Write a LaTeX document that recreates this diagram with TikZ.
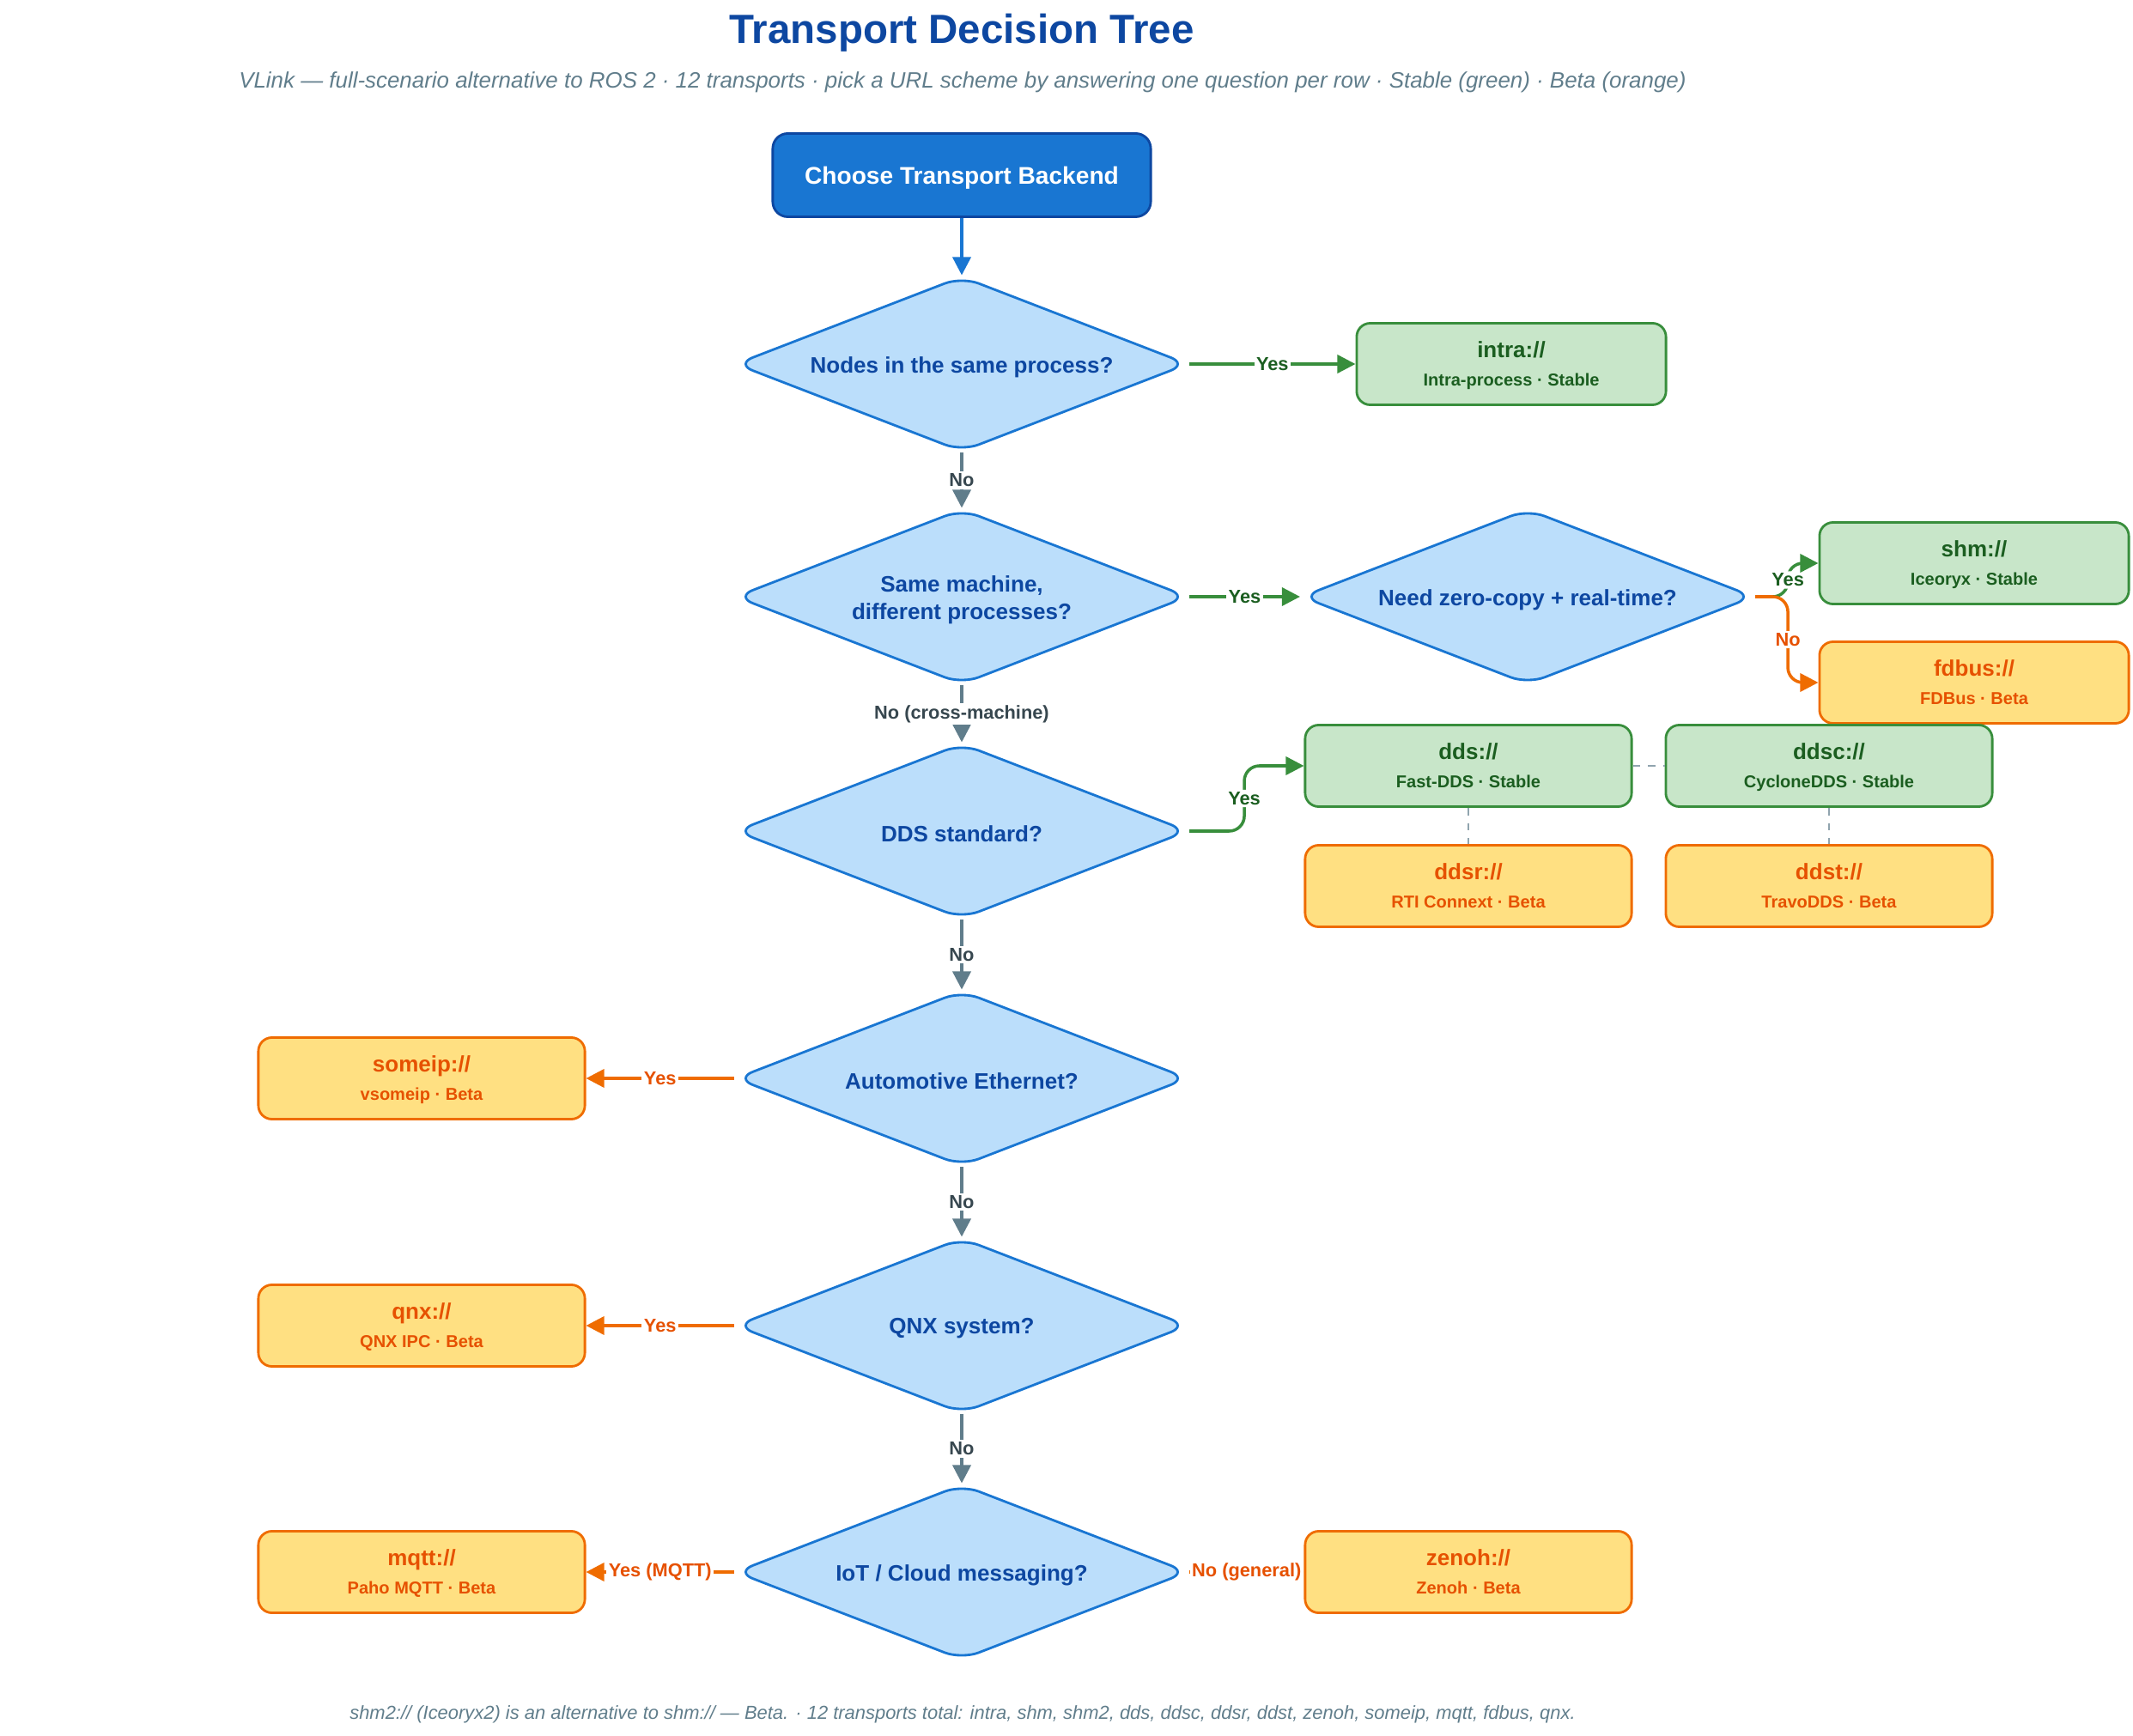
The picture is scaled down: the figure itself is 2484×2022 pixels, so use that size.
\documentclass[tikz,border=0pt]{standalone}
\usepackage{fontspec}
\setmainfont{Liberation Sans}
\usetikzlibrary{shapes.geometric,arrows.meta}

\definecolor{titleblue}{HTML}{0D47A1}
\definecolor{startblue}{HTML}{1976D2}
\definecolor{qfill}{HTML}{BBDEFB}
\definecolor{greenfill}{HTML}{C8E6C9}
\definecolor{greenline}{HTML}{388E3C}
\definecolor{greentext}{HTML}{1B5E20}
\definecolor{orangefill}{HTML}{FFE082}
\definecolor{orangeline}{HTML}{EF6C00}
\definecolor{orangetext}{HTML}{E65100}
\definecolor{greyline}{HTML}{607D8B}
\definecolor{greytext}{HTML}{37474F}
\definecolor{dashgrey}{HTML}{90A4AE}

\newcommand{\transport}[2]{{\fontsize{7.4}{9.4}\selectfont #1}\\{\fontsize{5.7}{9.4}\selectfont #2}}

\begin{document}
\begin{tikzpicture}
	[x=0.01cm, y=-0.01cm,
	start/.style={draw=titleblue, fill=startblue, line width=0.8pt, rounded corners=5pt,
		minimum width=4.4cm, minimum height=0.97cm, text=white, text depth=0pt,
		font=\fontsize{8}{9.6}\selectfont\bfseries},
	decision/.style={diamond, draw=startblue, fill=qfill, line width=0.8pt, rounded corners=6pt,
		minimum width=5.27cm, minimum height=2.04cm, inner sep=0pt},
	qtext/.style={text=titleblue, align=center, yshift=-1pt, font=\fontsize{7.4}{9}\selectfont\bfseries},
	stable/.style={draw=greenline, fill=greenfill, text=greentext, line width=0.8pt,
		rounded corners=4.5pt, minimum width=3.6cm, minimum height=0.95cm, align=center,
		text depth=0pt, font=\fontsize{7.4}{9.4}\selectfont\bfseries},
	beta/.style={stable, draw=orangeline, fill=orangefill, text=orangetext},
	wide/.style={minimum width=3.8cm},
	note/.style={text=greyline, font=\fontsize{7.37}{8.5}\selectfont\itshape},
	lbl/.style={fill=white, inner sep=0.7pt, font=\fontsize{6.2}{7}\selectfont\bfseries},
	startarrow/.style={-{Triangle[length=6pt,width=6pt]}, startblue, line width=1pt},
	yesarrow/.style={-{Triangle[length=6pt,width=6pt]}, greenline, line width=1pt},
	betaarrow/.style={-{Triangle[length=6pt,width=6pt]}, orangeline, line width=1pt},
	noarrow/.style={-{Triangle[length=6pt,width=6pt]}, greyline, line width=1pt},
	alt/.style={dashgrey, line width=0.7pt, dash pattern=on 2.5pt off 2.5pt}]

	\useasboundingbox (0,0) rectangle (2484,2022);

	% Title
	\node[text=titleblue, font=\fontsize{13.5}{16}\selectfont\bfseries] (title) at (1120,38) {Transport Decision Tree};
	\node[note] (subtitle) at (1121,96) {VLink — full-scenario alternative to ROS 2 · 12 transports · pick a URL scheme by answering one question per row · Stable (green) · Beta (orange)};

	% Start
	\node[start] (start) at (1120,204) {Choose Transport Backend};

	% Questions
	\node[decision, label={[qtext]center:{Nodes in the same process?}}] (q1) at (1120,424) {};
	\node[decision, label={[qtext]center:{Same machine,\\different processes?}}] (q2) at (1120,695) {};
	\node[decision, label={[qtext]center:{Need zero-copy + real-time?}}] (zc) at (1779,695) {};
	\node[decision, label={[qtext]center:{DDS standard?}}] (q3) at (1120,968) {};
	\node[decision, label={[qtext]center:{Automotive Ethernet?}}] (q4) at (1120,1256) {};
	\node[decision, label={[qtext]center:{QNX system?}}] (q5) at (1120,1544) {};
	\node[decision, label={[qtext]center:{IoT / Cloud messaging?}}] (q6) at (1120,1831) {};

	% Transports
	\node[stable] (intra) at (1760,424) {\transport{intra://}{Intra-process · Stable}};
	\node[stable] (shm) at (2299,656) {\transport{shm://}{Iceoryx · Stable}};
	\node[beta] (fdbus) at (2299,795) {\transport{fdbus://}{FDBus · Beta}};
	\node[stable, wide] (dds) at (1710,892) {\transport{dds://}{Fast-DDS · Stable}};
	\node[stable, wide] (ddsc) at (2130,892) {\transport{ddsc://}{CycloneDDS · Stable}};
	\node[beta, wide] (ddsr) at (1710,1032) {\transport{ddsr://}{RTI Connext · Beta}};
	\node[beta, wide] (ddst) at (2130,1032) {\transport{ddst://}{TravoDDS · Beta}};
	\node[beta, wide] (someip) at (491,1256) {\transport{someip://}{vsomeip · Beta}};
	\node[beta, wide] (qnx) at (491,1544) {\transport{qnx://}{QNX IPC · Beta}};
	\node[beta, wide] (mqtt) at (491,1831) {\transport{mqtt://}{Paho MQTT · Beta}};
	\node[beta, wide] (zenoh) at (1710,1831) {\transport{zenoh://}{Zenoh · Beta}};

	% Main line
	\draw[startarrow] (start) -- (q1);
	\foreach \a/\b/\t in {q1/q2/No, q2/q3/No (cross-machine), q3/q4/No, q4/q5/No, q5/q6/No}
		\draw[noarrow] (\a.south) -- (\b.north) node[midway, lbl, text=greytext] {\t};

	% Yes branches
	\draw[yesarrow] (q1) -- (intra) node[midway, lbl, text=greentext] {Yes};
	\draw[yesarrow] (q2) -- (zc) node[midway, lbl, text=greentext] {Yes};
	\draw[yesarrow, rounded corners=5pt] (zc.east) -- ++(38,0) |- node[pos=0.25, lbl, text=greentext] {Yes} (shm.west);
	\draw[betaarrow, rounded corners=5pt] (zc.east) -- ++(38,0) |- node[pos=0.25, lbl, text=orangetext] {No} (fdbus.west);
	\draw[yesarrow, rounded corners=5pt] (q3.east) -- ++(64,0) |- node[pos=0.25, lbl, text=greentext] {Yes} (dds.west);

	% DDS alternatives
	\draw[alt] (dds) -- (ddsc);
	\draw[alt] (dds) -- (ddsr);
	\draw[alt] (ddsc) -- (ddst);

	% Left and right branches
	\draw[betaarrow] (q4) -- (someip) node[midway, lbl, text=orangetext] {Yes};
	\draw[betaarrow] (q5) -- (qnx) node[midway, lbl, text=orangetext] {Yes};
	\draw[betaarrow] (q6) -- (mqtt) node[midway, lbl, text=orangetext] {Yes (MQTT)};
	\draw[betaarrow] (q6) -- (zenoh) node[midway, lbl, text=orangetext] {No (general)};

	% Footnote
	\node[note, font=\fontsize{6.24}{7}\selectfont\itshape] (footer) at (1121,1997) {shm2:// (Iceoryx2) is an alternative to shm:// — Beta. · 12 transports total: intra, shm, shm2, dds, ddsc, ddsr, ddst, zenoh, someip, mqtt, fdbus, qnx.};

\end{tikzpicture}
\end{document}
